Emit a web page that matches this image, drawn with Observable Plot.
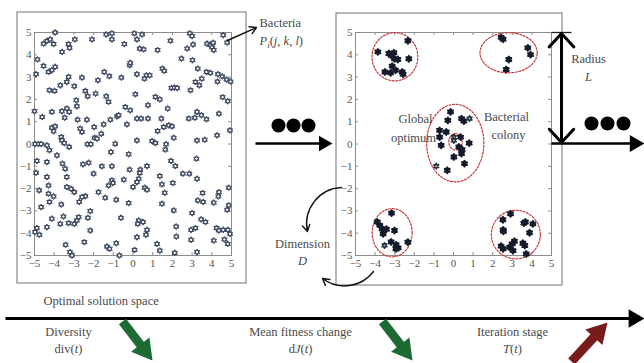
<!DOCTYPE html>
<html><head><meta charset="utf-8">
<script src="https://cdn.jsdelivr.net/npm/d3@7"></script>
<script src="https://cdn.jsdelivr.net/npm/@observablehq/plot@0.6"></script>
<style>
html,body{margin:0;padding:0;background:#fff;}
#wrap{position:relative;width:644px;height:363px;overflow:hidden;background:#fff;}
#wrap > svg{position:absolute;left:0;top:0;}
#wrap text, #wrap tspan{font-family:"Liberation Serif","Times New Roman","DejaVu Serif",serif !important;}
</style></head><body><div id="wrap"></div>
<script>
// ---------------- DATA ----------------
const axisTicks = [-5,-4,-3,-2,-1,0,1,2,3,4,5];

// left panel: bacteria scattered over the optimal solution space
const leftPoints = [
[-3.95,5.0],[-4.54,4.5],[-4.37,4.62],[-4.2,4.69],[-4.03,4.48],[-3.6,4.13],[-3.27,4.48],[-3.22,4.31],[-2.95,4.69],[-2.08,4.69],[-1.36,4.91],[-1.07,4.96],[-1.07,4.69],[-0.44,4.48],[0.07,4.96],[0.2,4.69],[0.46,4.91],[0.34,4.28],[0.54,4.24],[1.25,4.21],[1.9,4.63],[2.88,4.96],[3.0,4.84],[2.75,4.28],[3.05,4.46],[3.76,4.5],[3.93,4.43],[4.02,4.33],[4.1,4.21],[4.07,4.54],[4.58,4.88],[4.78,4.55],
[-4.85,3.79],[-4.54,3.5],[-4.92,3.13],[-4.29,3.23],[-4.12,3.31],[-3.95,3.46],[-3.69,2.63],[-3.98,2.38],[-4.24,2.41],[-3.36,2.78],[-3.27,3.01],[-2.59,2.98],[-2.98,2.59],[-1.78,2.86],[-1.46,3.23],[-1.2,3.04],[-0.59,2.98],[-0.17,3.53],[-0.14,3.64],[0.2,3.13],[0.58,2.93],[0.68,3.08],[0.85,3.08],[1.49,3.38],[1.59,3.28],[2.46,3.83],[3.02,3.76],[3.29,3.38],[3.49,2.93],[3.73,3.23],[3.93,3.19],[3.17,2.78],[3.37,2.63],[2.92,2.41],[4.31,3.13],[4.53,3.03],[4.75,2.89],[4.95,2.8],[4.29,2.8],[1.95,2.51],[2.1,2.53],[2.24,2.51],
[-2.88,1.96],[-2.85,1.69],[-2.42,2.38],[-2.3,2.14],[-1.9,2.26],[-1.36,2.14],[-1.24,1.89],[0.12,2.23],[1.14,2.11],[1.36,2.0],[0.76,1.74],[-0.39,1.66],[-0.14,1.51],[1.76,1.59],[3.25,1.44],[4.36,1.36],[4.81,1.92],[4.55,2.1],[-5.0,1.47],[-4.61,1.21],[-4.12,1.44],[-3.61,1.47],[-3.36,1.59],[-3.24,1.44],[-3.47,1.18],[-2.81,1.09],[-2.34,1.09],[-1.97,0.76],[-1.49,0.88],[-1.15,1.09],[-0.81,1.24],[-0.73,1.29],[-0.31,0.88],[0.2,1.14],[0.42,1.14],[0.76,1.14],[1.44,1.14],[1.81,0.84],[1.98,0.79],[1.56,0.76],[1.25,0.58],[2.83,1.14],[3.14,1.18],[3.47,1.29],[3.73,1.11],[-2.68,0.69],[-2.59,0.54],[-4.12,0.73],[-3.95,0.79],[-4.03,0.57],[4.92,0.61],[4.27,0.39],
[-4.97,0],[-4.8,0],[-4.66,0],[-4.37,-0.06],[-4.24,-0.28],[-3.64,0.31],[-3.61,0.16],[-3.49,0.04],[-3.24,-0.13],[-3.86,-0.51],[-2.31,-0.01],[-2.14,-0.01],[-1.95,0.28],[-1.83,0.24],[-1.61,0.46],[-0.9,0.01],[-1.12,-0.36],[-0.22,-0.46],[0.2,0.16],[0.97,0.13],[1.14,0.04],[1.68,-0.01],[1.64,-0.25],[2.07,0.28],[3.25,0.16],[3.64,0.19],[3.22,-0.66],
[-4.88,-0.76],[-4.92,-1.29],[-4.37,-0.81],[-4.37,-1.48],[-4.29,-1.86],[-3.58,-0.88],[-3.44,-1.11],[-3.36,-1.48],[-2.54,-0.91],[-2.25,-0.84],[-1.58,-1.0],[-1.07,-1.0],[-2.0,-1.33],[-1.07,-1.63],[-1.02,-1.75],[-1.24,-1.86],[-0.47,-1.6],[-0.17,-1.15],[0.37,-1.15],[0.34,-1.3],[0.29,-1.56],[0.2,-1.71],[0.71,-0.99],[1.36,-1.44],[1.47,-1.81],[1.93,-0.76],[2.15,-0.99],[2.53,-1.33],[2.86,-1.33],[3.25,-1.56],
[-4.76,-2.08],[-4.29,-2.23],[-3.36,-1.93],[-3.14,-2.01],[-2.98,-2.16],[-2.42,-2.34],[-2.59,-2.38],[-2.73,-2.6],[-1.75,-2.16],[-1.41,-2.41],[-0.85,-2.5],[0,-1.93],[-0.22,-2.65],[0.59,-1.96],[0.71,-2.05],[1.61,-2.19],[2.02,-1.75],[1.47,-2.68],[3.29,-2.53],[3.56,-2.6],[3.53,-2.2],[4.1,-2.63],[4.36,-2.16],[4.33,-2.35],[4.86,-1.96],[4.86,-2.75],[4.78,-2.95],[-4.66,-2.83],[-4.24,-2.6],[-4.03,-2.35],[-3.64,-2.71],[2.07,-2.98],
[-4.12,-3.35],[-4.37,-3.73],[-4.88,-3.77],[-4.97,-3.95],[-4.75,-4.07],[-3.69,-3.58],[-3.53,-3.25],[-3.27,-3.55],[-2.98,-3.58],[-2.85,-3.43],[-2.76,-3.28],[-2.29,-3.31],[-2.17,-3.01],[-2.17,-3.88],[-0.61,-3.31],[0.29,-3.43],[0.24,-3.58],[0.51,-3.5],[0.71,-3.85],[0.66,-4.07],[0.2,-4.18],[1.22,-4.48],[2.19,-3.7],[2.2,-4.15],[3.0,-3.1],[3.17,-3.77],[2.95,-3.85],[3.46,-3.38],[3.68,-3.5],[4.24,-3.77],[4.36,-3.88],[4.58,-3.85],[4.81,-3.85],[4.92,-4.03],[4.1,-4.33],[4.64,-4.28],[4.81,-4.48],[2.95,-4.3],[-3.42,-4.52],[-3.2,-4.85],[-3.1,-5.0],[-2.47,-4.4],[-1.32,-4.6],[-1.19,-4.7],[-0.85,-4.45],[-0.69,-5.0],[0.08,-4.75],[1.36,-4.78],[2.12,-4.88],[3.25,-4.85]
];

// right panel: bacteria gathered in colonies
const rightPoints = [
[-3.86,4.13],[-3.3,4.06],[-3.18,3.98],[-3.04,4.09],[-2.84,3.79],[-3.01,3.82],[-2.33,4.63],[-2.28,3.82],[-3.13,3.49],[-2.96,3.31],[-3.21,3.19],[-3.5,3.23],[-2.62,3.23],[-2.57,3.13],
[2.43,4.78],[2.53,4.7],[2.82,3.79],[2.69,3.34],[3.79,4.31],[3.93,4.01],
[-0.15,1.44],[-0.29,1.06],[0.41,1.14],[0.53,1.03],[-0.71,0.61],[-0.71,0.31],[-0.37,0.54],[-0.63,-0.06],[0.36,0.31],[0.27,-0.13],[0.44,-0.25],[0.41,-0.43],[0.8,0.04],[0.02,-0.58],[0.56,-0.88],[-0.32,-1.18],
[-3.89,-3.5],[-3.76,-3.65],[-3.64,-3.8],[-3.59,-4.03],[-3.42,-3.82],[-3.16,-3.1],[-3.01,-3.88],[-3.18,-4.39],[-2.93,-4.52],[-2.82,-4.66],[-2.94,-4.7],[-2.33,-4.4],
[2.52,-3.4],[2.91,-3.13],[2.53,-3.85],[2.55,-3.92],[2.43,-4.58],[2.53,-4.7],[2.86,-4.63],[2.99,-4.48],[3.11,-4.36],[3.04,-4.78],[3.59,-3.55],[3.67,-3.5],[4.05,-3.58],[3.88,-3.98],[3.54,-4.45],[3.64,-4.55],[3.71,-4.93]
];
const rightLightPoints = [[0.82,1.14],[0.02,0.31],[0.02,0.16],[-0.88,-0.99],[-3.52,-4.55]];

// colonies: centre x, centre y, radius x, radius y (data units)
const colonyCx = [-2.99, 2.81, 0.09, 0.10, -3.13, 3.18];
const colonyCy = [ 3.91, 4.09, 0.04, 0.10, -3.98, -4.06];
const colonyRx = [ 1.17, 1.46, 1.46, 0.34, 1.02, 1.25];
const colonyRy = [ 1.08, 0.90, 1.74, 0.37, 1.08, 1.09];

// texts of the diagram (markup: *italic*, _subscript_)
const labelTexts = ["Bacteria","*P*_i_(*j*, *k*, *l*)","Radius","*L*","Global","optimum","Bacterial","colony",
  "Dimension","*D*","Optimal solution space","Diversity","div(*t*)","Mean fitness change","d*J*(*t*)","Iteration stage","*T*(*t*)"];

// ---------------- LAYOUT ----------------
const W = 644, H = 363;
const SERIF = "Liberation Serif, Times New Roman, DejaVu Serif, serif";
const TXT = "#4a4a4a";
const labelPos = [[259,22,"start"],[259,40,"start"],[588,58,"middle"],[588,76,"middle"],[415,118,"middle"],[413,137,"middle"],
  [506,116,"middle"],[508,134,"middle"],[302,243,"middle"],[302,260,"middle"],[43,300,"start"],[68,331,"middle"],[68,348,"middle"],
  [300,331,"middle"],[300,348,"middle"],[512,331,"middle"],[512,348,"middle"]];
const labels = labelTexts.map((t,i)=>({text:t, x:labelPos[i][0], y:labelPos[i][1], anchor:labelPos[i][2]}));

const outerBoxes = [{x1:17,y1:12,x2:246,y2:283},{x1:336,y1:13,x2:562,y2:285}];
const bigDots = [{x:278,y:125},{x:293,y:125},{x:308,y:125},{x:591,y:123},{x:607,y:123},{x:623,y:123}];
const capLines = [{x1:551,y1:32,x2:571,y2:32}];
// arrows with solid triangular heads
const solidArrows = [
  {x1:255,y1:143,x2:332,y2:143,w:2.6,r:5.8,c:"#000"},
  {x1:551,y1:143,x2:644,y2:143,w:2.6,r:6.3,c:"#000"},
  {x1:5,y1:318,x2:644,y2:318,w:3,r:6.8,c:"#000"},
  {x1:122,y1:321,x2:152,y2:360,w:9,r:8.6,c:"#1d6a33"},
  {x1:382,y1:321,x2:412,y2:360,w:9,r:8.6,c:"#1d6a33"},
  {x1:571,y1:361,x2:607,y2:322,w:9,r:8.6,c:"#7a1b1b"}
];

// ---------------- helpers ----------------
const hexagram = {
  draw(ctx, size) {
    const r = Math.sqrt(size / Math.PI);
    for (const a0 of [-90, 90]) {
      for (let k = 0; k < 3; k++) {
        const a = (a0 + 120 * k) * Math.PI / 180;
        const px = r * Math.cos(a), py = r * Math.sin(a);
        if (k === 0) ctx.moveTo(px, py); else ctx.lineTo(px, py);
      }
      ctx.closePath();
    }
  }
};

function ellipsePoints() {
  const out = [];
  colonyCx.forEach((cx, i) => {
    for (let k = 0; k < 80; k++) {
      const t = 2 * Math.PI * k / 80;
      out.push({id: i, x: cx + colonyRx[i] * Math.cos(t), y: colonyCy[i] + colonyRy[i] * Math.sin(t)});
    }
  });
  return out;
}

function panel(ml, mr, marks) {
  const tx = 3 / 19.7, ty = 3 / 22.3;
  return Plot.plot({
    width: W, height: H, marginLeft: ml, marginRight: mr, marginTop: 32, marginBottom: 108,
    x: {domain: [-5, 5]}, y: {domain: [-5, 5]},
    style: {background: "transparent", fontFamily: SERIF, overflow: "visible"},
    marks: [
      Plot.frame({stroke: "#8c8c8c", strokeWidth: 1}),
      Plot.ruleX(axisTicks, {x: d => d, y1: () => -5, y2: () => -5 + ty, stroke: "#8c8c8c"}),
      Plot.ruleX(axisTicks, {x: d => d, y1: () => 5, y2: () => 5 - ty, stroke: "#8c8c8c"}),
      Plot.ruleY(axisTicks, {y: d => d, x1: () => -5, x2: () => -5 + tx, stroke: "#8c8c8c"}),
      Plot.ruleY(axisTicks, {y: d => d, x1: () => 5, x2: () => 5 - tx, stroke: "#8c8c8c"}),
      Plot.axisX({ticks: axisTicks, tickSize: 0, tickPadding: 4, fontSize: 11, fill: "#555", label: null, fontFamily: SERIF}),
      Plot.axisY({ticks: axisTicks, tickSize: 0, tickPadding: 3, fontSize: 11, fill: "#555", label: null, fontFamily: SERIF}),
      ...marks
    ]
  });
}

const wrap = document.getElementById("wrap");

const left = panel(34, W - 231, [
  Plot.dot(leftPoints, {x: d => d[0], y: d => d[1], symbol: hexagram, r: 3.1, fill: "white", stroke: "#2e3c55", strokeWidth: 0.9})
]);
const right = panel(355, W - 551, [
  Plot.line(ellipsePoints(), {x: "x", y: "y", z: "id", curve: "linear-closed", stroke: "#c8383c", strokeWidth: 1.2, strokeDasharray: "2,1.6"}),
  Plot.dot(rightPoints, {x: d => d[0], y: d => d[1], symbol: hexagram, r: 2.9, fill: "#141c2c", stroke: "#141c2c", strokeWidth: 2, strokeLinejoin: "round"}),
  Plot.dot(rightLightPoints, {x: d => d[0], y: d => d[1], symbol: hexagram, r: 2.9, fill: "#a9b6b3", stroke: "#23303c", strokeWidth: 1.3, strokeLinejoin: "round"})
]);

// solid-head arrows -> shafts + rotated triangles
const shafts = [], heads = [];
for (const a of solidArrows) {
  const dx = a.x2 - a.x1, dy = a.y2 - a.y1, L = Math.hypot(dx, dy), ux = dx / L, uy = dy / L;
  const cx = a.x2 - 1.555 * a.r * ux, cy = a.y2 - 1.555 * a.r * uy;
  const bx = cx - 0.6 * a.r * ux, by = cy - 0.6 * a.r * uy;
  shafts.push({x1: a.x1, y1: a.y1, x2: bx, y2: by, w: a.w, c: a.c});
  heads.push({x: cx, y: cy, r: a.r, c: a.c, rot: Math.atan2(ux, -uy) * 180 / Math.PI});
}

const overlay = Plot.plot({
  width: W, height: H, margin: 0,
  x: {domain: [0, W], axis: null}, y: {domain: [H, 0], axis: null},
  style: {background: "transparent", fontFamily: SERIF, overflow: "visible"},
  marks: [
    Plot.rect(outerBoxes, {x1: "x1", x2: "x2", y1: "y1", y2: "y2", fill: "none", stroke: "#707070", strokeWidth: 1}),
    Plot.link(capLines, {x1: "x1", y1: "y1", x2: "x2", y2: "y2", stroke: "#222", strokeWidth: 1.3}),
    Plot.link(shafts, {x1: "x1", y1: "y1", x2: "x2", y2: "y2", stroke: d => d.c, strokeWidth: d => d.w, strokeLinecap: "butt"}),
    ...heads.map(h => Plot.dot([h], {x: "x", y: "y", r: h.r, symbol: "triangle", fill: h.c, stroke: "none", rotate: h.rot})),
    Plot.dot(bigDots, {x: "x", y: "y", r: 7, fill: "#000"}),
    Plot.arrow([{x1: 227, y1: 40, x2: 256, y2: 27}], {x1: "x1", y1: "y1", x2: "x2", y2: "y2", stroke: "#111", strokeWidth: 1.4, headLength: 8}),
    Plot.arrow([{x1: 561, y1: 88, x2: 561, y2: 33}, {x1: 561, y1: 88, x2: 561, y2: 142}], {x1: "x1", y1: "y1", x2: "x2", y2: "y2", stroke: "#000", strokeWidth: 3, headLength: 13, headAngle: 85}),
    Plot.arrow([{x1: 341, y1: 187, x2: 307, y2: 231}], {x1: "x1", y1: "y1", x2: "x2", y2: "y2", stroke: "#111", strokeWidth: 1.4, headLength: 8, bend: -50}),
    Plot.arrow([{x1: 373, y1: 271, x2: 322, y2: 278}], {x1: "x1", y1: "y1", x2: "x2", y2: "y2", stroke: "#111", strokeWidth: 1.4, headLength: 8, bend: 45}),
    ...["start", "middle"].map(anc => Plot.text(labels.filter(d => d.anchor === anc), {x: "x", y: "y", text: "text", textAnchor: anc, fontSize: 12.5, fill: TXT, fontFamily: SERIF}))
  ]
});

wrap.append(left, right, overlay);

// rich text: *italic*, _subscript_
d3.select(overlay).selectAll("text").each(function() {
  const t = this.textContent;
  if (!/[*_]/.test(t)) return;
  const parts = t.split(/(\*[^*]+\*|_[^_]+_)/).filter(s => s.length);
  this.textContent = "";
  let lowered = false;
  for (const p of parts) {
    const ts = d3.select(this).append("tspan");
    if (p[0] === "*") ts.attr("font-style", "italic").text(p.slice(1, -1));
    else if (p[0] === "_") ts.attr("font-style", "italic").attr("font-size", "9px").attr("dy", 3).text(p.slice(1, -1));
    else ts.text(p);
    if (lowered && p[0] !== "_") { ts.attr("dy", -3); }
    lowered = p[0] === "_";
  }
});
</script></body></html>
